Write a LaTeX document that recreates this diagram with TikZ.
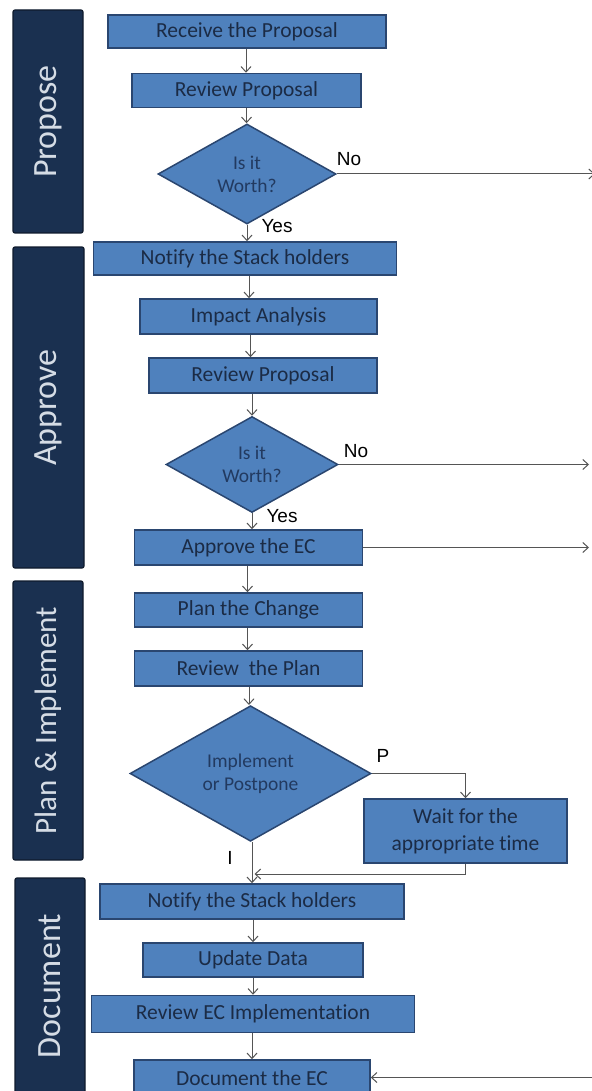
\documentclass[tikz,border=0pt]{standalone}
\usepackage{fontspec}
\setmainfont{Carlito}[Ligatures=NoCommon]
\newfontfamily\arialfont{Liberation Sans}
\usetikzlibrary{shapes.geometric,arrows.meta}
\definecolor{boxfill}{HTML}{4F81BD}
\definecolor{boxline}{HTML}{2A4670}
\definecolor{boxtext}{HTML}{1B2B45}
\definecolor{diatext}{HTML}{223A60}
\definecolor{lanefill}{HTML}{1A3050}
\definecolor{laneline}{HTML}{0E1A2C}
\definecolor{lanetext}{HTML}{D5DCE5}
\definecolor{flowline}{HTML}{555555}

\begin{document}
\begin{tikzpicture}[x=1pt,y=-1pt,
  box/.style={rectangle,draw=boxline,fill=boxfill,line width=1.5pt,text=boxtext,inner sep=0pt,align=center,font=\fontsize{21.5}{27}\selectfont},
  dia/.style={diamond,draw=boxline,fill=boxfill,line width=1.5pt,text=diatext,inner sep=0pt,align=center,font=\fontsize{19.5}{23}\selectfont},
  lane/.style={rectangle,rounded corners=2pt,draw=laneline,fill=lanefill,line width=1.2pt,text=lanetext,inner sep=0pt,rotate=90,font=\fontsize{34}{40}\selectfont},
  lbl/.style={inner sep=0pt,text=black,font=\arialfont\fontsize{19}{22}\selectfont},
  flow/.style={draw=flowline,line width=1pt,-{Straight Barb[length=5.5pt,width=10pt]}}]
\useasboundingbox (0,0) rectangle (591,1091);

% lanes
\node[lane,minimum width=223,minimum height=70] (propose) at (48,121.5) {Propose};
\node[lane,minimum width=321,minimum height=71] (approve) at (48.5,407.5) {Approve};
\node[lane,minimum width=279,minimum height=70,font=\fontsize{31}{36}\selectfont] (plan) at (48,720.5) {Plan \& Implement};
\node[lane,minimum width=216,minimum height=70] (document) at (50,986) {Document};

% propose
\node[box,minimum width=278,minimum height=33] (rec) at (247,31.5) {Receive the Proposal};
\node[box,minimum width=229,minimum height=34] (rev1) at (246.5,90.5) {Review Proposal};
\node[dia,minimum width=178,minimum height=100] (dia1) at (247,174) {Is it\\Worth?};

% approve
\node[box,minimum width=303,minimum height=33] (notify1) at (245,258.5) {Notify the Stack holders};
\node[box,minimum width=237,minimum height=35] (impact) at (258.5,316.5) {Impact Analysis};
\node[box,minimum width=228,minimum height=35] (rev2) at (263,375.5) {Review Proposal};
\node[dia,minimum width=172,minimum height=95] (dia2) at (252,464.5) {Is it\\Worth?};
\node[box,minimum width=228,minimum height=35] (appr) at (248.5,547.5) {Approve the EC};

% plan & implement
\node[box,minimum width=228,minimum height=34] (change) at (248.5,610) {Plan the Change};
\node[box,minimum width=228,minimum height=35] (revplan) at (248.5,668.5) {Review~~the Plan};
\node[dia,minimum width=241,minimum height=131] (dia3) at (250.5,773.5) {Implement\\or Postpone};
\node[box,minimum width=203,minimum height=64] (wait) at (465.5,831) {Wait for the\\appropriate time};

% document
\node[box,minimum width=304,minimum height=35] (notify2) at (252,901.5) {Notify the Stack holders};
\node[box,minimum width=220,minimum height=34] (update) at (253,960) {Update Data};
\node[box,minimum width=323,minimum height=37] (revec) at (253,1014) {Review EC Implementation};
\node[box,minimum width=236,minimum height=36] (docec) at (252,1078) {Document the EC};

% labels
\node[lbl] (no1) at (349,159) {No};
\node[lbl] (yes1) at (277,226) {Yes};
\node[lbl] (no2) at (356,451) {No};
\node[lbl] (yes2) at (282,516) {Yes};
\node[lbl] (p) at (383,756) {P};
\node[lbl] (i) at (230,858) {I};

% main flow
\foreach \a/\b/\x in {rec/rev1/246,rev1/dia1/246.5,dia1/notify1/247,notify1/impact/249,
  impact/rev2/250.5,rev2/dia2/252,dia2/appr/252,appr/change/247.5,change/revplan/247.5,
  revplan/dia3/249,dia3/notify2/252,notify2/update/253,update/revec/253,revec/docec/252}{
  \coordinate (s) at (\x,0);
  \draw[flow] (\a.south -| s) -- (\b.north -| s);
}

% side exits
\coordinate (e1) at (595,174);
\coordinate (e2) at (589,464.5);
\coordinate (e3) at (589,547.5);
\coordinate (e4) at (592,1077.5);
\coordinate (ret) at (254.5,874);
\draw[flow] (dia1.east) -- (e1);
\draw[flow] (dia2.east) -- (e2);
\draw[flow] (appr.east) -- (e3);
\draw[flow] (e4) -- (docec.east |- e4);
\draw[flow] (dia3.east) -| (wait.north);
\draw[flow] (wait.south) |- (ret);
\end{tikzpicture}
\end{document}
